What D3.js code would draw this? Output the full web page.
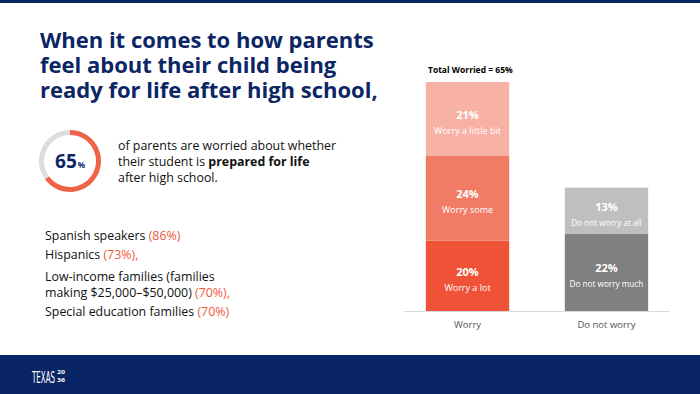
<!DOCTYPE html>
<html>
<head>
  <meta charset="utf-8">
  <title>Parents worried about life after high school</title>
  <style>
    body { margin: 0; background: #fff; }
    svg { display: block; font-family: "Open Sans", "Noto Sans", sans-serif; }
  </style>
</head>
<body>
  <svg id="chart"></svg>
  <script src="https://d3js.org/d3.v7.min.js"></script>
  <script>
    // data
    const categories = ["Worry", "Do not worry"];
    const worryLabels = ["Worry a lot", "Worry some", "Worry a little bit"];
    const worryValues = [20, 24, 21];
    const noWorryLabels = ["Do not worry much", "Do not worry at all"];
    const noWorryValues = [22, 13];
    const totalWorried = 65;
    const groupNames = ["Spanish speakers", "Hispanics", "Low-income families (families", "Special education families"];
    const groupValues = [86, 73, 70, 70];

    const width = 700, height = 394;
    const navy = "#0b2565";
    const svg = d3.select("#chart").attr("width", width).attr("height", height);

    // top stripe + footer band
    svg.append("rect").attr("x", 0).attr("y", 0).attr("width", width).attr("height", 3).attr("fill", navy);
    svg.append("rect").attr("x", 0).attr("y", 355).attr("width", width).attr("height", 39).attr("fill", "#0a2566");
    svg.append("text").attr("x", 32).attr("y", 383).attr("fill", "#fff")
      .style("font-family", "'DejaVu Sans Condensed', 'Liberation Sans Narrow', sans-serif")
      .style("font-size", "15px").attr("textLength", 23).attr("lengthAdjust", "spacingAndGlyphs")
      .text("TEXAS");
    // little stacked "20 / 36" mark
    const mark = svg.append("text").attr("fill", "#fff").style("font-size", "6px").style("font-weight", "bold");
    mark.append("tspan").attr("x", 57).attr("y", 374).attr("textLength", 8).attr("lengthAdjust", "spacingAndGlyphs").text("20");
    mark.append("tspan").attr("x", 57).attr("y", 382).attr("textLength", 8).attr("lengthAdjust", "spacingAndGlyphs").text("36");

    // title
    const title = ["When it comes to how parents", "feel about their child being", "ready for life after high school,"];
    const titleText = svg.append("text").attr("fill", navy).style("font-size", "22px").style("font-weight", "bold");
    titleText.selectAll("tspan").data(title).join("tspan")
      .attr("x", 40).attr("y", (d, i) => 48 + i * 25)
      .text(d => d);

    // donut
    const donut = svg.append("g").attr("transform", "translate(70,161)");
    const pie = d3.pie().sort(null).value(d => d);
    const arc = d3.arc().innerRadius(26).outerRadius(31);
    donut.selectAll("path").data(pie([totalWorried, 100 - totalWorried])).join("path")
      .attr("d", arc).attr("fill", (d, i) => i === 0 ? "#ef6448" : "#dddddd");
    const big = donut.append("text").attr("text-anchor", "middle").attr("y", 7).attr("fill", navy);
    big.append("tspan").style("font-size", "19px").style("font-weight", "bold").text(totalWorried);
    big.append("tspan").style("font-size", "8px").style("font-weight", "bold").attr("dx", 1).text("%");

    const desc = svg.append("text").attr("fill", "#111").style("font-size", "12.4px");
    desc.append("tspan").attr("x", 118).attr("y", 150).text("of parents are worried about whether");
    desc.append("tspan").attr("x", 118).attr("y", 166).text("their student is ");
    desc.append("tspan").style("font-weight", "bold").text("prepared for life");
    desc.append("tspan").attr("x", 118).attr("y", 182).text("after high school.");

    // groups list
    const list = svg.append("g").style("font-size", "12.4px").attr("fill", "#111");
    const rows = [
      { y: 240, name: groupNames[0], val: groupValues[0], tail: "" },
      { y: 259, name: groupNames[1], val: groupValues[1], tail: "," },
      { y: 297, name: "making $25,000\u2013$50,000)", val: groupValues[2], tail: "," },
      { y: 316, name: groupNames[3], val: groupValues[3], tail: "" }
    ];
    list.append("text").attr("x", 45).attr("y", 281).text(groupNames[2]);
    rows.forEach(r => {
      const t = list.append("text").attr("x", 45).attr("y", r.y);
      t.append("tspan").text(r.name + " ");
      t.append("tspan").attr("fill", "#ef5a3c").text("(" + r.val + "%)" + r.tail);
    });

    // stacked bars
    const x = d3.scaleBand().domain(categories).range([405, 669]).paddingInner(0.4).paddingOuter(0.15);
    const y = d3.scaleLinear().domain([0, totalWorried]).range([311, 82]);

    const stacks = [
      { cat: categories[0], labels: worryLabels, values: worryValues, colors: ["#f05237", "#f27b66", "#f7b2a5"] },
      { cat: categories[1], labels: noWorryLabels, values: noWorryValues, colors: ["#808080", "#bfbfbf"] }
    ];
    const bars = svg.append("g");
    stacks.forEach(s => {
      let acc = 0;
      s.values.forEach((v, i) => {
        const y0 = acc, y1 = acc + v;
        acc = y1;
        const cx = x(s.cat) + x.bandwidth() / 2;
        const mid = (y(y0) + y(y1)) / 2;
        bars.append("rect").attr("x", x(s.cat)).attr("width", x.bandwidth())
          .attr("y", y(y1)).attr("height", y(y0) - y(y1)).attr("fill", s.colors[i]);
        bars.append("text").attr("x", cx).attr("y", mid).attr("text-anchor", "middle")
          .attr("fill", "#fff").style("font-size", "11px").style("font-weight", "bold").text(v + "%");
        bars.append("text").attr("x", cx).attr("y", mid + 15).attr("text-anchor", "middle")
          .attr("fill", "#fff").style("font-size", s.cat === categories[0] ? "9px" : "8.2px").text(s.labels[i]);
      });
    });

    // baseline + category labels
    svg.append("line").attr("x1", 404).attr("x2", 669).attr("y1", 311.5).attr("y2", 311.5)
      .attr("stroke", "#d9d9d9").attr("stroke-width", 1);
    svg.append("g").selectAll("text").data(categories).join("text")
      .attr("x", d => x(d) + x.bandwidth() / 2).attr("y", 328).attr("text-anchor", "middle")
      .attr("fill", "#555").style("font-size", "9.5px").text(d => d);

    svg.append("text").attr("x", 428).attr("y", 73).attr("fill", "#000")
      .style("font-size", "8.5px").style("font-weight", "bold").text("Total Worried = " + totalWorried + "%");
  </script>
</body>
</html>
